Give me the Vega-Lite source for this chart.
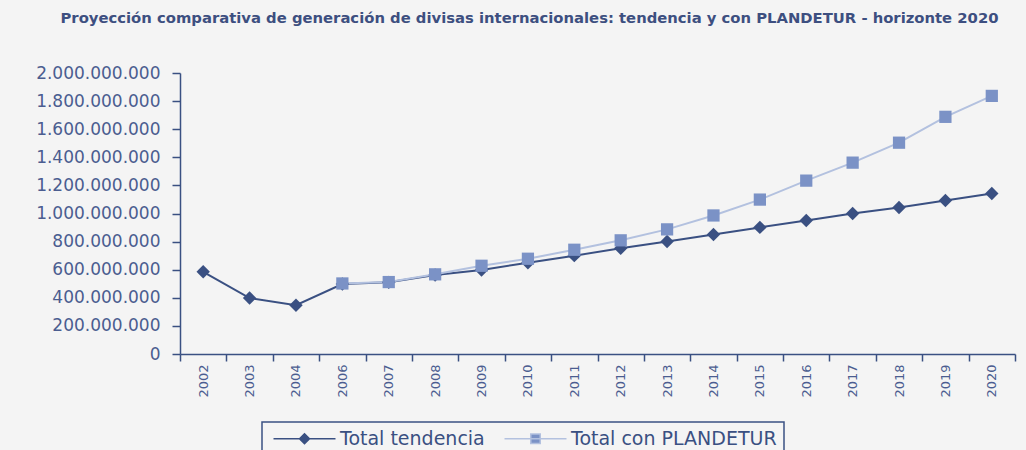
{
  "$schema": "https://vega.github.io/schema/vega-lite/v6.json",
  "autosize": {"type": "none"},
  "padding": {"left": 180, "top": 73, "right": 11, "bottom": 96},
  "width": 835,
  "height": 281,
  "background": "#f4f4f4",
  "title": {
    "text": "Proyección comparativa de generación de divisas internacionales: tendencia y con PLANDETUR - horizonte 2020",
    "font": "DejaVu Sans",
    "fontSize": 14.8,
    "fontWeight": "bold",
    "color": "#3d4f80",
    "anchor": "middle",
    "frame": "group",
    "dx": -68,
    "offset": 38
  },
  "config": {
    "view": {"stroke": null},
    "axis": {"grid": false, "domainColor": "#3a5082", "tickColor": "#3a5082", "domainWidth": 1.5, "tickWidth": 1.5, "labelFont": "DejaVu Sans", "labelColor": "#4b5d90"},
    "legend": {
      "strokeColor": "#3a5082", "strokeWidth": 1.5, "padding": 7,
      "labelFont": "DejaVu Sans", "labelFontSize": 19, "labelColor": "#3a5082", "labelLimit": 400,
      "symbolSize": 100, "symbolOpacity": 1, "symbolStrokeWidth": 1.5,
      "symbolOffset": 26, "labelOffset": 26, "columnPadding": 15
    }
  },
  "data": {
    "values": [
      {"year": "2002", "serie": "Total tendencia", "value": 585000000},
      {"year": "2003", "serie": "Total tendencia", "value": 398000000},
      {"year": "2004", "serie": "Total tendencia", "value": 347000000},
      {"year": "2006", "serie": "Total tendencia", "value": 498000000},
      {"year": "2007", "serie": "Total tendencia", "value": 510000000},
      {"year": "2008", "serie": "Total tendencia", "value": 562000000},
      {"year": "2009", "serie": "Total tendencia", "value": 598000000},
      {"year": "2010", "serie": "Total tendencia", "value": 650000000},
      {"year": "2011", "serie": "Total tendencia", "value": 700000000},
      {"year": "2012", "serie": "Total tendencia", "value": 752000000},
      {"year": "2013", "serie": "Total tendencia", "value": 801000000},
      {"year": "2014", "serie": "Total tendencia", "value": 851000000},
      {"year": "2015", "serie": "Total tendencia", "value": 901000000},
      {"year": "2016", "serie": "Total tendencia", "value": 950000000},
      {"year": "2017", "serie": "Total tendencia", "value": 1000000000},
      {"year": "2018", "serie": "Total tendencia", "value": 1043000000},
      {"year": "2019", "serie": "Total tendencia", "value": 1092000000},
      {"year": "2020", "serie": "Total tendencia", "value": 1142000000},
      {"year": "2006", "serie": "Total con PLANDETUR", "value": 502000000},
      {"year": "2007", "serie": "Total con PLANDETUR", "value": 512000000},
      {"year": "2008", "serie": "Total con PLANDETUR", "value": 567000000},
      {"year": "2009", "serie": "Total con PLANDETUR", "value": 628000000},
      {"year": "2010", "serie": "Total con PLANDETUR", "value": 678000000},
      {"year": "2011", "serie": "Total con PLANDETUR", "value": 742000000},
      {"year": "2012", "serie": "Total con PLANDETUR", "value": 809000000},
      {"year": "2013", "serie": "Total con PLANDETUR", "value": 887000000},
      {"year": "2014", "serie": "Total con PLANDETUR", "value": 986000000},
      {"year": "2015", "serie": "Total con PLANDETUR", "value": 1099000000},
      {"year": "2016", "serie": "Total con PLANDETUR", "value": 1234000000},
      {"year": "2017", "serie": "Total con PLANDETUR", "value": 1362000000},
      {"year": "2018", "serie": "Total con PLANDETUR", "value": 1504000000},
      {"year": "2019", "serie": "Total con PLANDETUR", "value": 1688000000},
      {"year": "2020", "serie": "Total con PLANDETUR", "value": 1837000000}
    ]
  },
  "encoding": {
    "x": {
      "field": "year", "type": "ordinal", "bandPosition": 0.5,
      "scale": {"type": "band", "paddingInner": 0, "paddingOuter": 0},
      "axis": {"title": null, "labelAngle": -90, "labelAlign": "right", "labelBaseline": "middle", "labelFontSize": 13, "tickBand": "extent", "tickSize": 7, "labelPadding": 3}
    },
    "y": {
      "field": "value", "type": "quantitative",
      "scale": {"domain": [0, 2000000000]},
      "axis": {"title": null, "values": [0, 200000000, 400000000, 600000000, 800000000, 1000000000, 1200000000, 1400000000, 1600000000, 1800000000, 2000000000], "labelFontSize": 17, "tickSize": 8, "labelPadding": 12,
        "labelExpr": "replace(replace(replace(format(datum.value, ','), ',', '.'), ',', '.'), ',', '.')"}
    }
  },
  "layer": [
    {
      "mark": {"type": "line", "strokeWidth": 2},
      "encoding": {
        "stroke": {"field": "serie", "type": "nominal",
          "legend": {"title": null, "orient": "none", "legendX": 82, "legendY": 349, "direction": "horizontal"},
          "scale": {"domain": ["Total tendencia", "Total con PLANDETUR"], "range": ["#3a5082", "#b3c1df"]}}
      }
    },
    {
      "transform": [{"filter": "datum.serie === 'Total tendencia'"}],
      "mark": {"type": "point", "shape": "diamond", "filled": true, "size": 180, "color": "#3a5082", "opacity": 1}
    },
    {
      "transform": [{"filter": "datum.serie === 'Total con PLANDETUR'"}],
      "mark": {"type": "point", "shape": "square", "filled": true, "size": 150, "color": "#7b92c6", "opacity": 1}
    },
    {
      "mark": {"type": "point", "filled": true, "opacity": 0, "size": 100},
      "encoding": {
        "fill": {"field": "serie", "type": "nominal",
          "scale": {"domain": ["Total tendencia", "Total con PLANDETUR"], "range": ["#3a5082", "#7b92c6"]},
          "legend": {"title": null, "orient": "none", "legendX": 82, "legendY": 349, "direction": "horizontal"}
        },
        "stroke": {"field": "serie", "type": "nominal",
          "legend": {"title": null, "orient": "none", "legendX": 82, "legendY": 349, "direction": "horizontal"}},
        "shape": {"field": "serie", "type": "nominal",
          "legend": {"title": null, "orient": "none", "legendX": 82, "legendY": 349, "direction": "horizontal"},
          "scale": {"domain": ["Total tendencia", "Total con PLANDETUR"],
            "range": ["M-6.2,0H6.2M-1,0L0,-1L1,0L0,1Z", "M-6.2,0H6.2M-0.95,-0.95H0.95V0.95H-0.95Z"]}}
      }
    }
  ]
}
